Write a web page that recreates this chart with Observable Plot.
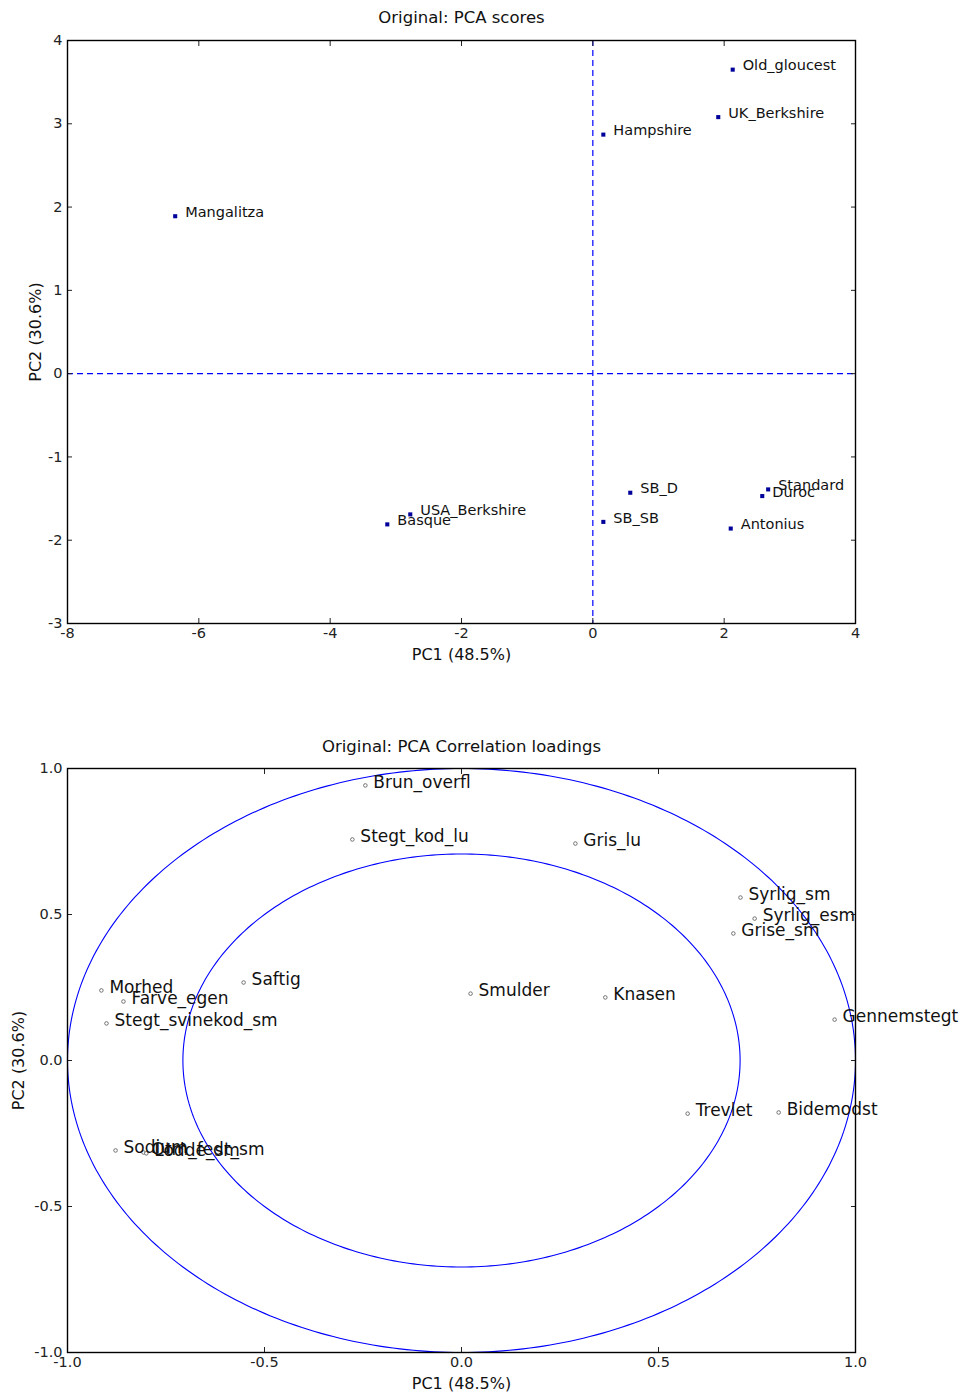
<!DOCTYPE html>
<html><head><meta charset="utf-8">
<script src="https://cdn.jsdelivr.net/npm/d3@7"></script>
<script src="https://cdn.jsdelivr.net/npm/@observablehq/plot@0.6"></script>
<style>body{margin:0;background:#fff;} svg{display:block}</style>
</head><body><div id="c"></div>
<script>
// --- Data: PCA scores ---
const scoreNames = ["Old_gloucest","UK_Berkshire","Hampshire","Mangalitza","SB_D","SB_SB","Standard","Duroc","Antonius","USA_Berkshire","Basque"];
const scoreX = [2.13, 1.91, 0.16, -6.36, 0.57, 0.16, 2.67, 2.58, 2.10, -2.78, -3.13];
const scoreY = [3.65, 3.08, 2.87, 1.89, -1.43, -1.78, -1.39, -1.47, -1.86, -1.69, -1.81];
const scoreXTicks = [-8, -6, -4, -2, 0, 2, 4];
const scoreYTicks = [-3, -2, -1, 0, 1, 2, 3, 4];

// --- Data: correlation loadings ---
const loadNames = ["Brun_overfl","Stegt_kod_lu","Gris_lu","Syrlig_sm","Syrlig_esm","Grise_sm","Saftig","Morhed","Farve_egen","Stegt_svinekod_sm","Smulder","Knasen","Gennemstegt","Trevlet","Bidemodst","Sodium","Otm_fedt_sm","Lodde_sm"];
const loadX = [-0.244, -0.277, 0.289, 0.708, 0.744, 0.690, -0.553, -0.914, -0.858, -0.901, 0.023, 0.365, 0.947, 0.574, 0.805, -0.878, -0.807, -0.800];
const loadY = [0.942, 0.757, 0.743, 0.558, 0.486, 0.435, 0.267, 0.240, 0.202, 0.127, 0.229, 0.216, 0.140, -0.182, -0.178, -0.308, -0.315, -0.318];
const loadTicks = [-1.0, -0.5, 0.0, 0.5, 1.0];
const circleRadii = [1, Math.SQRT1_2];
const pcLabels = ["PC1 (48.5%)", "PC2 (30.6%)"];
const titles = ["Original: PCA scores", "Original: PCA Correlation loadings"];

const scores = scoreNames.map((n, i) => ({name: n, x: scoreX[i], y: scoreY[i]}));
const loads = loadNames.map((n, i) => ({name: n, x: loadX[i], y: loadY[i]}));
const angles = d3.range(0, 361, 1).map(a => a * Math.PI / 180);
const circles = circleRadii.flatMap(r => angles.map(t => ({r, x: r * Math.cos(t), y: r * Math.sin(t)})));

const FONT = "DejaVu Sans, sans-serif";
const BLUE = "#0000ff";

function axes(xt, yt, fmt, xLabelOffset, yLabelOffset) {
  return [
    Plot.axisX(xt, {anchor: "bottom", tickSize: -5, tickPadding: 9, tickFormat: fmt, fontSize: 14.5,
      label: null}),
    Plot.axisX(xt, {anchor: "top", tickSize: -5, tickFormat: () => "", label: null}),
    Plot.axisY(yt, {anchor: "left", tickSize: -5, tickPadding: 10, tickFormat: fmt, fontSize: 14.5,
      label: null}),
    Plot.axisY(yt, {anchor: "right", tickSize: -5, tickFormat: () => "", label: null}),
    Plot.text([pcLabels[0]], {frameAnchor: "bottom", lineAnchor: "middle", dy: xLabelOffset, fontSize: 16, fill: "#111"}),
    Plot.text([pcLabels[1]], {frameAnchor: "left", textAnchor: "middle", lineAnchor: "middle", dx: -yLabelOffset, rotate: -90, fontSize: 16, fill: "#111"}),
    Plot.frame({stroke: "#000", strokeWidth: 1.4})
  ];
}

const fmtInt = d => String(d);
const fmt1 = d => d.toFixed(1);

const p1 = Plot.plot({
  width: 965, height: 697,
  marginLeft: 67, marginRight: 110, marginTop: 40, marginBottom: 74,
  style: {fontFamily: FONT, fontSize: "14px", color: "#222", background: "#fff", overflow: "visible"},
  x: {domain: [-8, 4]},
  y: {domain: [-3, 4]},
  marks: [
    Plot.ruleX([0], {stroke: BLUE, strokeDasharray: "6,4", strokeWidth: 1.2}),
    Plot.ruleY([0], {stroke: BLUE, strokeDasharray: "6,4", strokeWidth: 1.2}),
    Plot.dot(scores, {x: "x", y: "y", symbol: "square", r: 2.3, fill: "#00009a", stroke: "none"}),
    Plot.text(scores, {x: "x", y: "y", text: "name", textAnchor: "start", dx: 10, dy: -4, fontSize: 14.5, fill: "#111"}),
    Plot.text([titles[0]], {frameAnchor: "top", lineAnchor: "middle", dy: -23, fontSize: 16.5, fill: "#111"}),
    ...axes(scoreXTicks, scoreYTicks, fmtInt, 31, 32)
  ]
});

const p2 = Plot.plot({
  width: 965, height: 697,
  marginLeft: 67, marginRight: 110, marginTop: 71, marginBottom: 42,
  style: {fontFamily: FONT, fontSize: "14px", color: "#222", background: "#fff", overflow: "visible"},
  x: {domain: [-1, 1]},
  y: {domain: [-1, 1]},
  marks: [
    Plot.line(circles, {x: "x", y: "y", z: "r", stroke: BLUE, strokeWidth: 1.1}),
    Plot.dot(loads, {x: "x", y: "y", r: 1.8, stroke: "#555", strokeWidth: 0.8, fill: "#fff"}),
    Plot.text(loads, {x: "x", y: "y", text: "name", textAnchor: "start", dx: 8, dy: -3, fontSize: 17, fill: "#111"}),
    Plot.text([titles[1]], {frameAnchor: "top", lineAnchor: "middle", dy: -22, fontSize: 16.5, fill: "#111"}),
    ...axes(loadTicks, loadTicks, fmt1, 31, 49)
  ]
});

document.getElementById("c").append(p1, p2);
</script>
</body></html>
